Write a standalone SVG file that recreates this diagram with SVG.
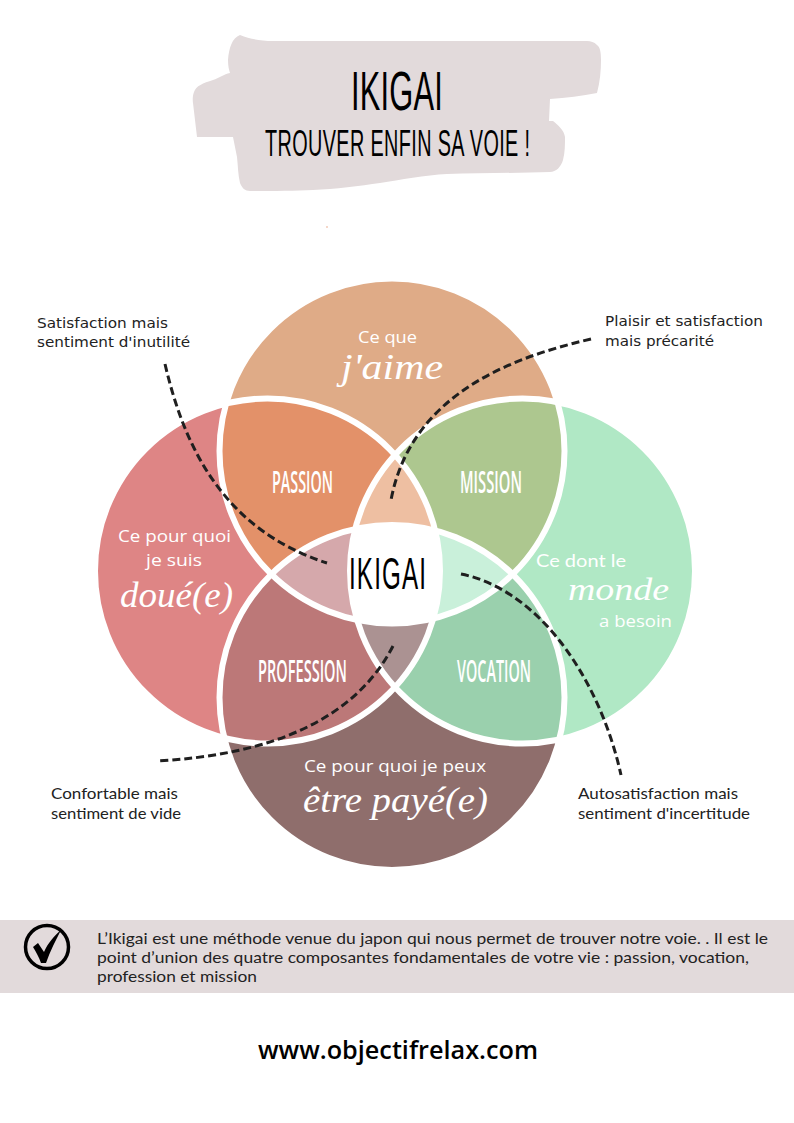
<svg xmlns="http://www.w3.org/2000/svg" width="794" height="1123" viewBox="0 0 794 1123">
<style>
.ring{fill:none;stroke:#fff;stroke-width:6}
.dash{fill:none;stroke:#1f1f1f;stroke-width:3;stroke-dasharray:8 4}
.t{font-family:"Open Sans",sans-serif;font-size:17px;fill:#fff}
.s{font-family:"Liberation Serif",serif;font-style:italic;font-size:36px;fill:#fff}
.h{font-family:"Open Sans",sans-serif;font-weight:600;font-size:31px;fill:#fff}
.k{font-family:"Liberation Sans",sans-serif;fill:#000}
.l{font-family:"DejaVu Sans",sans-serif;font-size:14.5px;fill:#222}
.m{font-family:"Lato",sans-serif;font-size:16px;fill:#222}
.b{font-family:"Lato",sans-serif;font-size:16px;fill:#222}
</style>
<defs>
<circle id="cT" cx="392" cy="451" r="172.5"/>
<circle id="cB" cx="392" cy="697.5" r="172.5"/>
<circle id="cL" cx="267.5" cy="571" r="172.5"/>
<circle id="cR" cx="522.5" cy="571" r="172.5"/>
<clipPath id="inT"><use href="#cT"/></clipPath>
<clipPath id="inB"><use href="#cB"/></clipPath>
<clipPath id="inL"><use href="#cL"/></clipPath>
<clipPath id="inR"><use href="#cR"/></clipPath>
</defs>
<rect width="794" height="1123" fill="#fff"/>
<g id="title">
<path d="M240 35C232 38 229 48 228 60C228 66 229 70 230 73C224 74 219 78 213 80C203 83 196 86 194 92C192 97 193 103 193 103L197 137L233 137L237 157C238 166 238 175 240 183C242 188 245 191 250 191C270 191 295 191 313 190C335 189 360 186 380 183C400 180 425 175 447 174C480 173 520 173 550 172C556 172 561 167 563 160C565 152 565 145 565 137C564 130 558 125 553 121L549 121L550 99C566 98 582 96 597 93C600 82 601 70 601 60C601 52 600 47 597 45C594 42 591 41 587 41L273 41C260 41 250 39 240 35Z" fill="#E2DADB"/>
<text class="k" transform="translate(351 110) scale(.55 1)" font-size="56" textLength="167" lengthAdjust="spacing">IKIGAI</text>
<text class="k" transform="translate(265 156) scale(.55 1)" font-size="36" textLength="482" lengthAdjust="spacing">TROUVER ENFIN SA VOIE !</text>
<circle cx="327" cy="227" r="0.7" fill="#E39169"/>
</g>
<g id="base-circles">
<use href="#cT" fill="#DFAB87"/>
<use href="#cL" fill="#DE8585"/>
<use href="#cR" fill="#B0E8C5"/>
<use href="#cB" fill="#8F6E6C"/>
</g>
<g id="overlaps">
<use id="passion-area" href="#cL" clip-path="url(#inT)" fill="#E39169"/>
<use id="mission-area" href="#cR" clip-path="url(#inT)" fill="#ADC78F"/>
<use id="profession-area" href="#cL" clip-path="url(#inB)" fill="#BC7878"/>
<use id="vocation-area" href="#cR" clip-path="url(#inB)" fill="#9AD0AD"/>
<g clip-path="url(#inT)"><use href="#cL" clip-path="url(#inR)" fill="#EEBFA2"/></g>
<g clip-path="url(#inB)"><use href="#cL" clip-path="url(#inR)" fill="#AB9292"/></g>
<g clip-path="url(#inL)"><use href="#cT" clip-path="url(#inB)" fill="#D5A8AB"/></g>
<g clip-path="url(#inR)"><use href="#cT" clip-path="url(#inB)" fill="#C9F0DA"/></g>
<g clip-path="url(#inL)"><g clip-path="url(#inR)"><use href="#cT" clip-path="url(#inB)" fill="#fff"/></g></g>
</g>
<g id="rings">
<use href="#cT" class="ring"/>
<use href="#cL" class="ring"/>
<use href="#cR" class="ring"/>
<use href="#cB" class="ring"/>
</g>
<g id="connectors">
<path class="dash" d="M165 364C185 450 225 530 327 563"/>
<path class="dash" d="M591 339C500 360 410 400 391 500"/>
<path class="dash" d="M461 574C540 590 600 680 621 775"/>
<path class="dash" d="M393 646C355 720 270 755 157 761"/>
</g>
<g id="node-top">
<text class="t" x="358" y="343" textLength="59" lengthAdjust="spacingAndGlyphs">Ce que</text>
<text class="s" x="341" y="379" textLength="102" lengthAdjust="spacingAndGlyphs">j'aime</text>
</g>
<g id="node-left">
<text class="t" x="118" y="542" textLength="113" lengthAdjust="spacingAndGlyphs">Ce pour quoi</text>
<text class="t" x="146" y="566" textLength="56" lengthAdjust="spacingAndGlyphs">je suis</text>
<text class="s" x="120" y="607" textLength="113" lengthAdjust="spacingAndGlyphs">doué(e)</text>
</g>
<g id="node-right">
<text class="t" x="536" y="567" style="font-family:Lato,sans-serif" textLength="90" lengthAdjust="spacingAndGlyphs">Ce dont le</text>
<text class="s" x="568" y="600" style="font-size:32px" textLength="101" lengthAdjust="spacingAndGlyphs">monde</text>
<text class="t" x="599" y="627" textLength="73" lengthAdjust="spacingAndGlyphs">a besoin</text>
</g>
<g id="node-bottom">
<text class="t" x="304" y="772" textLength="182" lengthAdjust="spacingAndGlyphs">Ce pour quoi je peux</text>
<text class="s" x="303" y="812" textLength="185" lengthAdjust="spacingAndGlyphs">être payé(e)</text>
</g>
<g id="node-passion"><text class="h" x="272" y="493" textLength="61" lengthAdjust="spacingAndGlyphs">PASSION</text></g>
<g id="node-mission"><text class="h" x="460" y="493" textLength="62" lengthAdjust="spacingAndGlyphs">MISSION</text></g>
<g id="node-profession"><text class="h" x="258" y="682" textLength="89" lengthAdjust="spacingAndGlyphs">PROFESSION</text></g>
<g id="node-vocation"><text class="h" x="457" y="682" textLength="74" lengthAdjust="spacingAndGlyphs">VOCATION</text></g>
<g id="node-ikigai"><text class="k" transform="translate(349 589) scale(.55 1)" font-size="44" textLength="140" lengthAdjust="spacing">IKIGAI</text></g>
<g id="label-tl">
<text class="l" x="37" y="328" textLength="131" lengthAdjust="spacingAndGlyphs">Satisfaction mais</text>
<text class="l" x="37" y="347" textLength="153" lengthAdjust="spacingAndGlyphs">sentiment d'inutilité</text>
</g>
<g id="label-tr">
<text class="l" x="605" y="326" textLength="158" lengthAdjust="spacingAndGlyphs">Plaisir et satisfaction</text>
<text class="l" x="605" y="346" textLength="109" lengthAdjust="spacingAndGlyphs">mais précarité</text>
</g>
<g id="label-bl">
<text class="m" x="51" y="799" textLength="127" lengthAdjust="spacingAndGlyphs">Confortable mais</text>
<text class="m" x="51" y="819" textLength="130" lengthAdjust="spacingAndGlyphs">sentiment de vide</text>
</g>
<g id="label-br">
<text class="m" x="578" y="799" textLength="160" lengthAdjust="spacingAndGlyphs">Autosatisfaction mais</text>
<text class="m" x="578" y="819" textLength="172" lengthAdjust="spacingAndGlyphs">sentiment d'incertitude</text>
</g>
<g id="note">
<rect x="0" y="920" width="794" height="73" fill="#E2DADB"/>
<circle cx="47" cy="947" r="21.5" fill="none" stroke="#000" stroke-width="3.5"/>
<path d="M33 947L38 943L44 952C48 943 54 936 61 930C56 940 50 951 46 963L41 963C39 957 36 952 33 947Z" fill="#000"/>
<text class="b" x="97" y="944" textLength="671" lengthAdjust="spacingAndGlyphs">L’Ikigai est une méthode venue du japon qui nous permet de trouver notre voie. . Il est le</text>
<text class="b" x="97" y="963" textLength="652" lengthAdjust="spacingAndGlyphs">point d’union des quatre composantes fondamentales de votre vie : passion, vocation,</text>
<text class="b" x="97" y="982" textLength="160" lengthAdjust="spacingAndGlyphs">profession et mission</text>
</g>
<g id="footer"><text x="258" y="1059" font-family="Open Sans, sans-serif" font-weight="600" font-size="26" fill="#000" textLength="280" lengthAdjust="spacingAndGlyphs">www.objectifrelax.com</text></g>
</svg>
